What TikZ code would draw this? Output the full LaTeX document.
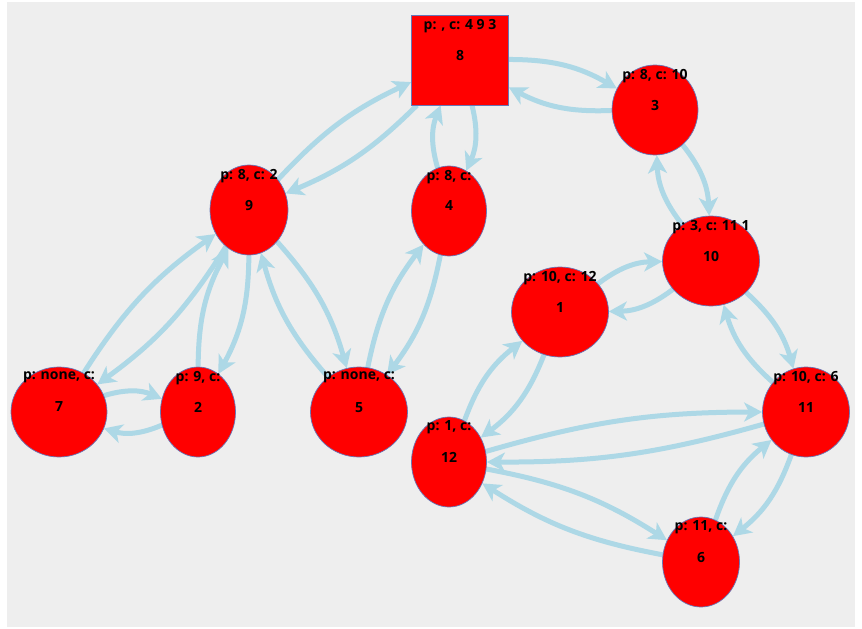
\documentclass[tikz,border=0pt]{standalone}
\usepackage{fontspec}
\setmainfont{Open Sans}
\usepackage{tikz}
\usetikzlibrary{arrows.meta}
\usetikzlibrary{shapes.geometric}
\usetikzlibrary{backgrounds}

\definecolor{panelgray}{HTML}{EEEEEE}
\definecolor{edgeblue}{HTML}{ADD8E6}
\definecolor{rimblue}{HTML}{6677B8}

\tikzset{
  vertex/.style={ellipse, fill=red, draw=rimblue, line width=0.7pt, inner sep=0pt,
    minimum height=90pt, text depth=10pt, font=\fontsize{14}{16}\selectfont\bfseries},
  rootbox/.style={rectangle, fill=red, draw=rimblue, line width=0.7pt, inner sep=0pt,
    minimum width=97pt, minimum height=90pt, text depth=10pt, font=\fontsize{14}{16}\selectfont\bfseries},
  info/.style={anchor=center, yshift=-11pt, inner sep=0pt, font=\fontsize{14}{16}\selectfont\bfseries},
  link/.style={draw=edgeblue, line width=5pt, -{Stealth[length=18pt,width=19pt,inset=5pt]}}
}

\begin{document}
\begin{tikzpicture}[x=1pt,y=-1pt]
\useasboundingbox (0,0) rectangle (862,629);

% nodes
\node[rootbox, label={[info]north:{p: , c: 4 9 3}}] (n8) at (460,60) {8};
\node[vertex, minimum width=86pt, label={[info]north:{p: 8, c: 10}}] (n3) at (655,110) {3};
\node[vertex, minimum width=78pt, label={[info]north:{p: 8, c: 2}}] (n9) at (249,210) {9};
\node[vertex, minimum width=75pt, label={[info]north:{p: 8, c:}}] (n4) at (449,211) {4};
\node[vertex, minimum width=97pt, label={[info]north:{p: 3, c: 11 1}}] (n10) at (711,261) {10};
\node[vertex, minimum width=97pt, label={[info]north:{p: 10, c: 12}}] (n1) at (560,312) {1};
\node[vertex, minimum width=96pt, label={[info]north:{p: none, c:}}] (n7) at (59,412) {7};
\node[vertex, minimum width=75pt, label={[info]north:{p: 9, c:}}] (n2) at (198,412) {2};
\node[vertex, minimum width=97pt, label={[info]north:{p: none, c:}}] (n5) at (359,412) {5};
\node[vertex, minimum width=87pt, label={[info]north:{p: 10, c: 6}}] (n11) at (806,412) {11};
\node[vertex, minimum width=75pt, label={[info]north:{p: 1, c:}}] (n12) at (449,462) {12};
\node[vertex, minimum width=77pt, label={[info]north:{p: 11, c:}}] (n6) at (701,562) {6};

% links, both ways, under the nodes
\begin{scope}[on background layer]
\fill[panelgray] (7,2) rectangle (855,627);
\draw[link] (n8) to[bend left=15] (n3);
\draw[link] (n3) to[bend left=15] (n8);
\draw[link] (n8) to[bend left=11] (n9);
\draw[link] (n9) to[bend left=11] (n8);
\draw[link] (n8) to[bend left=19] (n4);
\draw[link] (n4) to[bend left=19] (n8);
\draw[link] (n3) to[bend left=18] (n10);
\draw[link] (n10) to[bend left=18] (n3);
\draw[link] (n10) to[bend left=18] (n1);
\draw[link] (n1) to[bend left=18] (n10);
\draw[link] (n10) to[bend left=16] (n11);
\draw[link] (n11) to[bend left=16] (n10);
\draw[link] (n1) to[bend left=16] (n12);
\draw[link] (n12) to[bend left=16] (n1);
\draw[link] (n12) to[bend left=8] (n11);
\draw[link] (n11) to[bend left=8] (n12);
\draw[link] (n12) to[bend left=11] (n6);
\draw[link] (n6) to[bend left=11] (n12);
\draw[link] (n11) to[bend left=16] (n6);
\draw[link] (n6) to[bend left=16] (n11);
\draw[link] (n9) to[bend left=11] (n7);
\draw[link] (n7) to[bend left=11] (n9);
\draw[link] (n9) to[bend left=14] (n2);
\draw[link] (n2) to[bend left=14] (n9);
\draw[link] (n9) to[bend left=13] (n5);
\draw[link] (n5) to[bend left=13] (n9);
\draw[link] (n7) to[bend left=20] (n2);
\draw[link] (n2) to[bend left=20] (n7);
\draw[link] (n5) to[bend left=13] (n4);
\draw[link] (n4) to[bend left=13] (n5);
\end{scope}
\end{tikzpicture}
\end{document}
